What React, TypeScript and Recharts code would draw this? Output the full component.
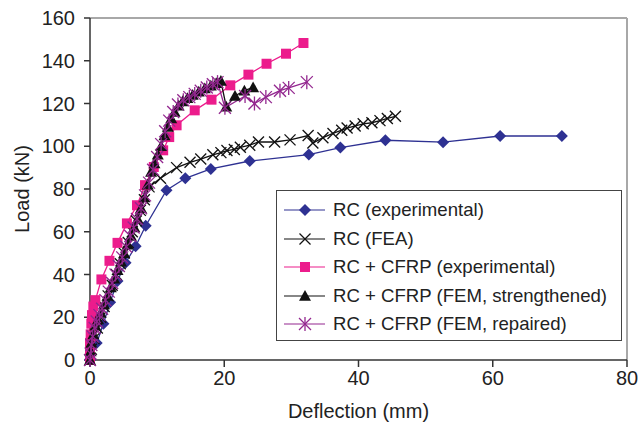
import { LineChart, Line, XAxis, YAxis, ReferenceLine, Legend } from 'recharts';

const FONT = '"Liberation Sans", Arial, Helvetica, sans-serif';

// RC (experimental)
const rcExpDeflection = [0, 1.0, 2.0, 3.0, 4.1, 5.3, 6.8, 8.3, 11.4, 14.2, 18.0, 23.8, 32.6, 37.3, 44.0, 52.6, 61.1, 70.3];
const rcExpLoad = [0, 8, 17, 27, 37, 45.5, 53.2, 62.8, 79.4, 85.0, 89.4, 93.1, 96.1, 99.4, 102.8, 101.9, 104.8, 104.8];

// RC (FEA)
const rcFeaDeflection = [0, 0.2, 0.6, 1.1, 1.6, 2.1, 2.7, 3.3, 3.9, 4.5, 5.1, 5.7, 6.3, 6.9, 7.5, 8.1, 8.8, 10.5, 12.9, 14.9, 16.5, 18.3, 19.5, 20.4, 21.5, 22.4, 23.8, 25.1, 27.5, 29.8, 32.5, 33.2, 34.7, 36.2, 37.5, 38.3, 39.5, 40.7, 42.0, 43.2, 44.3, 45.5];
const rcFeaLoad = [0, 5, 10, 15, 20, 25, 30, 35, 40, 45, 50, 55, 60, 65, 70, 75, 81, 85, 90, 92.5, 94, 96, 97, 98, 98.5, 99.5, 100.5, 102, 102, 103, 105, 101.5, 104, 106, 107.5, 108.5, 109.5, 110.5, 111, 112, 113, 114];

// RC + CFRP (experimental)
const cfrpExpDeflection = [0, 0, 0, 0.1, 0.2, 0.3, 0.5, 0.8, 1.7, 2.9, 4.1, 5.5, 7.0, 8.2, 9.5, 10.9, 11.8, 12.9, 15.6, 18.1, 20.9, 23.6, 26.3, 29.2, 31.8];
const cfrpExpLoad = [0, 4, 8, 12, 17, 21, 25, 28, 37.7, 46.4, 54.8, 63.9, 72.4, 81.8, 90.3, 98.1, 104.3, 109.8, 116.8, 121.8, 128.5, 133.5, 138.6, 143.3, 148.3];

// RC + CFRP (FEM, strengthened)
const femStrDeflection = [0, 0.1, 0.2, 0.5, 0.8, 1.2, 1.6, 2.1, 2.6, 3.1, 3.6, 4.1, 4.6, 5.1, 5.6, 6.1, 6.6, 7.1, 7.6, 8.1, 8.6, 9.1, 9.6, 10.1, 10.6, 11.1, 11.6, 12.1, 12.6, 13.2, 13.8, 14.5, 15.3, 16.2, 17.1, 18.0, 18.8, 19.5, 20.3, 21.6, 23.0, 24.3];
const femStrLoad = [0, 4, 8, 12, 16, 19, 22, 26, 30, 34, 38, 42, 46, 50, 54, 58, 62, 66, 71, 76, 82, 88, 92, 96, 100, 105, 109, 113, 116, 119, 121, 122.5, 124, 125.5, 127, 128.3, 129.5, 130.5, 118.5, 123.5, 126, 127.5];

// RC + CFRP (FEM, repaired)
const femRepDeflection = [0, 0.1, 0.2, 0.4, 0.7, 1.0, 1.4, 1.8, 2.3, 2.8, 3.3, 3.8, 4.3, 4.8, 5.4, 6.0, 6.5, 7.0, 7.6, 8.2, 8.8, 9.4, 10.0, 10.6, 11.2, 11.8, 12.4, 13.1, 13.9, 14.8, 15.6, 16.5, 17.4, 18.3, 19.0, 20.1, 23.1, 24.5, 26.2, 28.3, 29.6, 32.3];
const femRepLoad = [0, 3, 7, 11, 15, 18, 21, 24, 28, 32, 36, 40, 44, 48, 53, 58, 62, 66, 71, 77, 83, 89, 95, 101, 107, 112, 116, 119.5, 121.5, 123, 124.5, 126, 127.5, 129, 130, 118, 123.5, 120, 123, 126, 127.3, 130];

const xTicks = [0, 20, 40, 60, 80];
const yTicks = [0, 20, 40, 60, 80, 100, 120, 140, 160];

const toPoints = (xs: number[], ys: number[]) => xs.map((x, i) => ({ x, y: ys[i] }));

const BLUE = '#2e3192';
const PINK = '#ec1c8c';
const PURPLE = '#93278f';
const BLACK = '#111111';

type Shape = 'diamond' | 'cross' | 'square' | 'triangle' | 'star';

const Marker = ({ shape, cx, cy, color }: { shape: Shape; cx: number; cy: number; color: string }) => {
    if (shape === 'diamond') {
        const r = 6;
        return <polygon points={`${cx},${cy - r} ${cx + r},${cy} ${cx},${cy + r} ${cx - r},${cy}`} fill={color} />;
    }
    if (shape === 'square') {
        const r = 5;
        return <rect x={cx - r} y={cy - r} width={r * 2} height={r * 2} fill={color} />;
    }
    if (shape === 'triangle') {
        const r = 6;
        return <polygon points={`${cx},${cy - r} ${cx + r},${cy + r * 0.8} ${cx - r},${cy + r * 0.8}`} fill={color} />;
    }
    if (shape === 'cross') {
        const r = 5.5;
        return (
            <g stroke={color} strokeWidth={1.3}>
                <line x1={cx - r} y1={cy - r} x2={cx + r} y2={cy + r} />
                <line x1={cx - r} y1={cy + r} x2={cx + r} y2={cy - r} />
            </g>
        );
    }
    const r = 6;
    return (
        <g stroke={color} strokeWidth={1.3}>
            <line x1={cx - r} y1={cy - r} x2={cx + r} y2={cy + r} />
            <line x1={cx - r} y1={cy + r} x2={cx + r} y2={cy - r} />
            <line x1={cx} y1={cy - r - 1} x2={cx} y2={cy + r + 1} />
        </g>
    );
};

const makeDot = (shape: Shape, color: string) => (props: any) => (
    <g key={`${shape}-${props.index}`}>
        <Marker shape={shape} cx={props.cx} cy={props.cy} color={color} />
    </g>
);

const series = [
    { name: 'RC (experimental)', data: toPoints(rcExpDeflection, rcExpLoad), color: BLUE, shape: 'diamond' as Shape },
    { name: 'RC (FEA)', data: toPoints(rcFeaDeflection, rcFeaLoad), color: BLACK, shape: 'cross' as Shape },
    { name: 'RC + CFRP (experimental)', data: toPoints(cfrpExpDeflection, cfrpExpLoad), color: PINK, shape: 'square' as Shape },
    { name: 'RC + CFRP (FEM, strengthened)', data: toPoints(femStrDeflection, femStrLoad), color: BLACK, shape: 'triangle' as Shape },
    { name: 'RC + CFRP (FEM, repaired)', data: toPoints(femRepDeflection, femRepLoad), color: PURPLE, shape: 'star' as Shape },
];

const LegendBox = () => (
    <div style={{ border: '1px solid #444', background: '#fff', width: 346, height: 151, boxSizing: 'border-box', paddingTop: 5 }}>
        {series.map((s) => (
            <div key={s.name} style={{ display: 'flex', alignItems: 'center', height: 28.5 }}>
                <svg width={56} height={20} style={{ flex: 'none' }}>
                    <line x1={7} y1={10} x2={48} y2={10} stroke={s.color} strokeWidth={1.2} />
                    <Marker shape={s.shape} cx={28} cy={10} color={s.color} />
                </svg>
                <span style={{ fontFamily: FONT, fontSize: 18.6, color: '#222', whiteSpace: 'nowrap' }}>{s.name}</span>
            </div>
        ))}
    </div>
);

export default function App() {
    return (
        <div style={{ position: 'absolute', left: 0, top: 0, background: '#fff' }}>
            <LineChart width={640} height={423} margin={{ top: 18, right: 13, bottom: 0, left: 0 }}>
                <XAxis
                    type="number"
                    dataKey="x"
                    domain={[0, 80]}
                    ticks={xTicks}
                    height={63}
                    tickSize={7}
                    tickMargin={4}
                    stroke="#333"
                    strokeWidth={1.5}
                    tick={{ fill: '#222', fontSize: 20, fontFamily: FONT }}
                    label={{ value: 'Deflection (mm)', position: 'insideBottom', offset: 5, fill: '#222', fontSize: 20, fontFamily: FONT }}
                />
                <YAxis
                    type="number"
                    dataKey="y"
                    domain={[0, 160]}
                    ticks={yTicks}
                    width={90}
                    tickSize={6}
                    tickMargin={9}
                    stroke="#333"
                    strokeWidth={1.5}
                    tick={{ fill: '#222', fontSize: 20, fontFamily: FONT }}
                    label={{ value: 'Load (kN)', angle: -90, position: 'insideLeft', offset: 22, fill: '#222', fontSize: 20, fontFamily: FONT, style: { textAnchor: 'middle' } }}
                />
                <ReferenceLine y={160} stroke="#a8a8a8" strokeWidth={2} />
                <ReferenceLine x={80} stroke="#a8a8a8" strokeWidth={2} />
                {series.map((s) => (
                    <Line
                        key={s.name}
                        data={s.data}
                        dataKey="y"
                        name={s.name}
                        type="linear"
                        stroke={s.color}
                        strokeWidth={1.3}
                        dot={makeDot(s.shape, s.color)}
                        activeDot={false}
                        isAnimationActive={false}
                    />
                ))}
                <Legend
                    layout="vertical"
                    align="center"
                    verticalAlign="middle"
                    wrapperStyle={{ position: 'absolute', left: 276, top: 190, width: 346 }}
                    content={() => <LegendBox />}
                />
            </LineChart>
        </div>
    );
}
